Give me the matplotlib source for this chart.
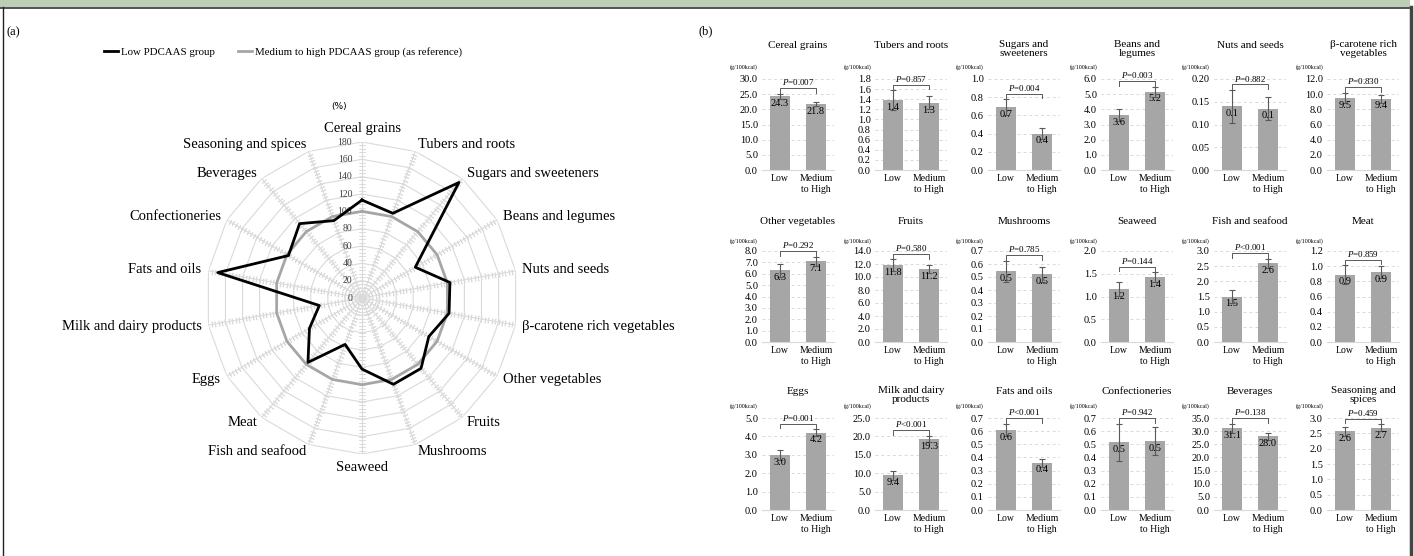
import numpy as np
import matplotlib
matplotlib.use("Agg")  # no display, just write the png
import matplotlib.pyplot as plt
from matplotlib.lines import Line2D
from matplotlib.patches import Rectangle

plt.rcParams["font.family"] = ["Liberation Serif", "DejaVu Serif"]
plt.rcParams["mathtext.fontset"] = "custom"
plt.rcParams["mathtext.rm"] = "Liberation Serif"
plt.rcParams["mathtext.it"] = "Liberation Serif:italic"

# ---------------------------
# Data
# ---------------------------
food_groups = [
    "Cereal grains", "Tubers and roots", "Sugars and sweeteners", "Beans and legumes",
    "Nuts and seeds", "β-carotene rich vegetables", "Other vegetables", "Fruits",
    "Mushrooms", "Seaweed", "Fish and seafood", "Meat", "Eggs",
    "Milk and dairy products", "Fats and oils", "Confectioneries", "Beverages",
    "Seasoning and spices",
]
# (a) radar, % of the medium-to-high group
radar_low = [113, 104, 174, 71, 103, 102, 89, 106, 106, 82, 57, 97, 70, 50, 169, 98, 112, 95]
radar_ref = [100] * 18
radar_ticks = list(range(0, 181, 20))

# (b) bar panels, g/100kcal
panel_titles = [
    "Cereal grains", "Tubers and roots", "Sugars and\nsweeteners", "Beans and\nlegumes",
    "Nuts and seeds", "β-carotene rich\nvegetables",
    "Other vegetables", "Fruits", "Mushrooms", "Seaweed", "Fish and seafood", "Meat",
    "Eggs", "Milk and dairy\nproducts", "Fats and oils", "Confectioneries", "Beverages",
    "Seasoning and\nspices",
]
low_mean = [24.3, 1.38, 0.69, 3.63, 0.14, 9.5,
            6.3, 11.8, 0.545, 1.16, 1.5, 0.89,
            3.0, 9.4, 0.61, 0.515, 31.1, 2.56]
low_err = [0.9, 0.2, 0.09, 0.42, 0.036, 0.7,
           0.6, 0.9, 0.08, 0.15, 0.22, 0.12,
           0.27, 1.2, 0.045, 0.14, 1.7, 0.15]
mid_mean = [21.8, 1.33, 0.40, 5.17, 0.135, 9.4,
            7.1, 11.2, 0.52, 1.42, 2.6, 0.92,
            4.2, 19.3, 0.36, 0.525, 28.0, 2.68]
mid_err = [0.6, 0.13, 0.06, 0.33, 0.025, 0.5,
           0.4, 0.6, 0.055, 0.11, 0.15, 0.08,
           0.2, 0.9, 0.03, 0.105, 1.2, 0.12]
p_labels = ["=0.007", "=0.857", "=0.004", "=0.003", "=0.882", "=0.830",
            "=0.292", "=0.580", "=0.785", "=0.144", "<0.001", "=0.859",
            "=0.001", "<0.001", "<0.001", "=0.942", "=0.138", "=0.459"]
y_max = [30, 1.8, 1.0, 6, 0.20, 12,
         8, 14, 0.7, 2.0, 3.0, 1.2,
         5, 25, 0.7, 0.7, 35, 3.0]
y_step = [5, 0.2, 0.2, 1, 0.05, 2,
          1, 2, 0.1, 0.5, 0.5, 0.2,
          1, 5, 0.1, 0.1, 5, 0.5]
group_names = ["Low", "Medium\nto High"]

W, H = 1414, 556
fig = plt.figure(figsize=(W / 100, H / 100), dpi=100)

# ---------------------------
# Frame around the figure
# ---------------------------
fig.add_artist(Rectangle((0, 1 - 7 / H), 1410 / W, 7 / H, transform=fig.transFigure,
                         color="#bccfb4", lw=0))
fig.add_artist(Line2D([0, 1410 / W], [1 - 7.5 / H] * 2, color="#333333", lw=1.2))
fig.add_artist(Line2D([3 / W] * 2, [0, 1 - 7 / H], color="#222222", lw=1))
fig.add_artist(Line2D([1410.5 / W] * 2, [0, 1 - 7 / H], color="#444444", lw=2.5))
fig.text(13 / W, 1 - 32 / H, "(a)", ha="center", va="center", fontsize=9)
fig.text(706 / W, 1 - 31 / H, "(b)", ha="center", va="center", fontsize=9)

# ---------------------------
# (a) Radar chart
# ---------------------------
cx, cy, rpx = 362, 298, 156
ax = fig.add_axes([(cx - rpx) / W, 1 - (cy + rpx) / H, 2 * rpx / W, 2 * rpx / H],
                  projection="polar")
ax.set_theta_offset(np.pi / 2)
ax.set_theta_direction(-1)
ax.set_ylim(0, 180)
ax.set_axis_off()

n = len(food_groups)
theta = np.arange(n) * 2 * np.pi / n
closed = np.append(theta, theta[0])
grid_c = "#dadada"

for r in radar_ticks[1:]:
    ax.plot(closed, [r] * (n + 1), color=grid_c, lw=0.8, zorder=1)
minor_r = np.arange(4, 180, 4)
for t in theta:
    ax.plot([t, t], [0, 180], color=grid_c, lw=0.8, zorder=1)
    ax.plot([t] * len(minor_r), minor_r, ls="none",
            marker=(2, 2, 90 - np.degrees(t)), ms=4, mec=grid_c, mew=0.6, zorder=1)

ax.plot(closed, radar_ref + radar_ref[:1], color="#a6a6a6", lw=2, zorder=3)
ax.plot(closed, radar_low + radar_low[:1], color="black", lw=2, zorder=4)

for r in radar_ticks:
    ax.annotate(str(r), xy=(0, r), xytext=(-7, 0), textcoords="offset points",
                ha="right", va="center", fontsize=7, color="#404040")

for t, lab in zip(theta, food_groups):
    deg = round(np.degrees(t))
    if deg == 0:
        ha, va = "center", "bottom"
    elif deg == 180:
        ha, va = "center", "top"
    elif deg < 180:
        ha, va = "left", "center"
    else:
        ha, va = "right", "center"
    ax.text(t, 188, lab, ha=ha, va=va, fontsize=10.5)

fig.text(339 / W, 1 - 106 / H, "(%)", ha="center", va="center", fontsize=6.5,
         family="DejaVu Sans")

fig.legend(handles=[Line2D([], [], color="black", lw=2),
                    Line2D([], [], color="#a6a6a6", lw=2)],
           labels=["Low PDCAAS group", "Medium to high PDCAAS group (as reference)"],
           loc="center", bbox_to_anchor=(283 / W, 1 - 52 / H), ncol=2, frameon=False,
           fontsize=7.8, handlelength=1.3, handletextpad=0.2, columnspacing=2.2)

# ---------------------------
# (b) 18 small bar charts
# ---------------------------
left0, pitch, axw = 762, 113, 72
row_top = [79, 251, 418]
row_bot = [170, 342, 510]
title_off = [34, 29, 27]
unit_off = [12, 10, 12]

for k in range(n):
    row, col = divmod(k, 6)
    top, bot = row_top[row], row_bot[row]
    hpx = bot - top
    bx = fig.add_axes([(left0 + col * pitch) / W, 1 - bot / H, axw / W, hpx / H])

    vals = [low_mean[k], mid_mean[k]]
    errs = [low_err[k], mid_err[k]]
    bx.bar([0, 1], vals, width=0.57, color="#a6a6a6", zorder=2)
    bx.errorbar([0, 1], vals, yerr=errs, fmt="none", ecolor="#595959",
                elinewidth=0.8, capsize=2.5, capthick=0.8, zorder=3)

    bx.set_xlim(-0.5, 1.5)
    bx.set_ylim(0, y_max[k])
    ticks = np.arange(0, y_max[k] + y_step[k] / 2, y_step[k])
    dec = 2 if y_step[k] < 0.1 else 1
    bx.set_yticks(ticks)
    bx.set_yticklabels([f"{v:.{dec}f}" for v in ticks])
    bx.set_xticks([0, 1])
    bx.set_xticklabels(group_names)
    bx.tick_params(axis="y", length=0, labelsize=7.5, pad=3)
    bx.tick_params(axis="x", length=0, labelsize=7, pad=3)
    bx.yaxis.grid(True, ls=(0, (3, 3)), color="#d9d9d9", lw=0.7)
    bx.set_axisbelow(True)
    for side in ["left", "right", "top"]:
        bx.spines[side].set_visible(False)
    bx.spines["bottom"].set_color("#d9d9d9")
    bx.spines["bottom"].set_linewidth(0.8)

    for x, v in zip([0, 1], vals):
        bx.annotate(f"{v:.1f}", xy=(x, v), xytext=(0, -2), textcoords="offset points",
                    ha="center", va="top", fontsize=7.5, zorder=4)

    # significance bracket
    yb = max(v + e for v, e in zip(vals, errs)) + 0.06 * y_max[k]
    drop = 0.05 * y_max[k]
    bx.plot([0, 0, 1, 1], [yb - drop, yb, yb, yb - drop], color="#595959", lw=0.7,
            clip_on=False, zorder=3)
    bx.text(0.5, yb + 0.01 * y_max[k], "$P$" + p_labels[k], ha="center", va="bottom",
            fontsize=6.5)

    off = title_off[row] - (4 if "\n" in panel_titles[k] else 0)
    bx.text(0.5, 1 + off / hpx, panel_titles[k], transform=bx.transAxes,
            ha="center", va="center", fontsize=8, linespacing=1.0)
    bx.text(-4 / axw, 1 + unit_off[row] / hpx, "(g/100kcal)", transform=bx.transAxes,
            ha="right", va="center", fontsize=4.3)

fig.savefig("out.png", dpi=100)
print("Saved out.png")
